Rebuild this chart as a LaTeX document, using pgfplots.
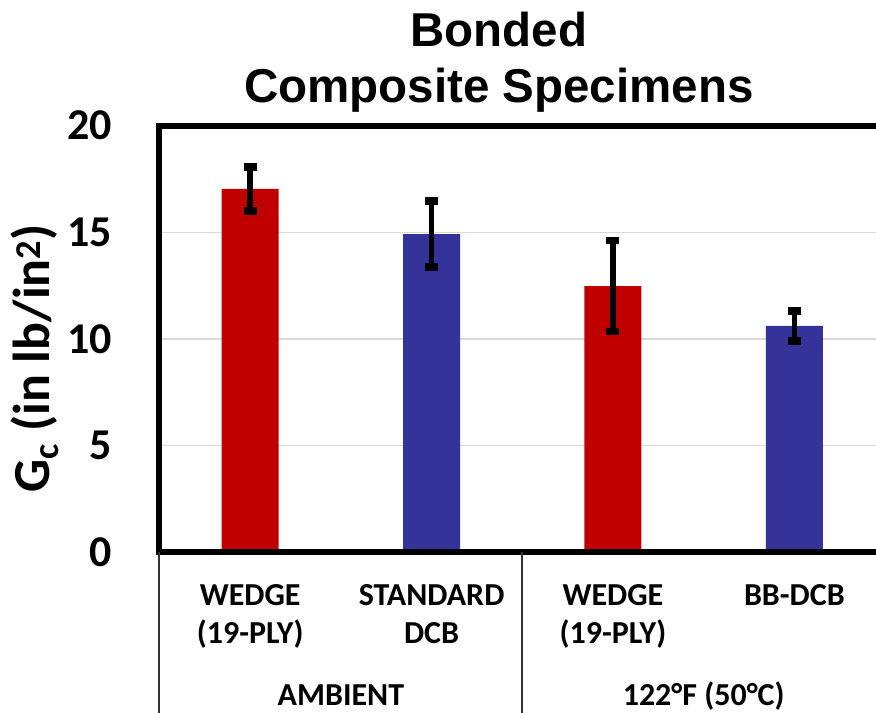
\documentclass[border=0pt]{standalone}
\usepackage{fontspec}
\setmainfont{Carlito}
\newfontfamily\arialfont{Liberation Sans}
\usepackage{pgfplots}
\pgfplotsset{compat=1.18}
\definecolor{barred}{HTML}{C00000}
\definecolor{barblue}{HTML}{333399}
\definecolor{gridgray}{HTML}{D9D9D9}
\begin{document}
\begin{tikzpicture}
\useasboundingbox (-159.5bp,-160.7bp) rectangle (716.5bp,552.3bp);
\begin{axis}[
  at={(0,0)}, anchor=south west,
  scale only axis,
  width=716.5bp, height=426.6bp,
  xmin=-0.5, xmax=3.45, ymin=0, ymax=20,
  clip=false,
  axis line style={draw=none},
  ytick={0,5,10,15,20},
  xtick={0,1,2,3},
  xticklabels={{WEDGE\\(19-PLY)},{STANDARD\\DCB},{WEDGE\\(19-PLY)},{BB-DCB\\\mbox{}}},
  major tick length=0pt,
  ymajorgrids,
  grid style={line width=1.5bp, gridgray},
  /pgf/number format/assume math mode=true,
  yticklabel style={font=\fontsize{44bp}{44bp}\selectfont\bfseries, anchor=east, inner sep=0pt, xshift=-47.5bp},
  xticklabel style={font=\fontsize{32bp}{38bp}\selectfont\bfseries, align=center, anchor=base, inner sep=0pt, yshift=-90.7bp},
  ybar, bar width=57bp,
]
\addplot[fill=barred, draw=none, bar shift=0pt,
  error bars/.cd, y dir=both, y explicit,
  error bar style={line width=5.5bp, black},
  error mark options={rotate=90, line width=7.5bp, mark size=6.5bp, black}]
  coordinates {(0,17.04) +- (0,1.03) (2,12.48) +- (0,2.13)};
\addplot[fill=barblue, draw=none, bar shift=0pt,
  error bars/.cd, y dir=both, y explicit,
  error bar style={line width=5.5bp, black},
  error mark options={rotate=90, line width=7.5bp, mark size=6.5bp, black}]
  coordinates {(1,14.92) +- (0,1.54) (3,10.61) +- (0,0.70)};
\draw[line width=6bp, black, line join=miter] (rel axis cs:1,1) -- (rel axis cs:0,1) -- (rel axis cs:0,0) -- (rel axis cs:1,0);
\draw[line width=2bp, black!80] (axis cs:-0.5,0) -- ([yshift=-170bp]axis cs:-0.5,0);
\draw[line width=2bp, black!80] (axis cs:1.5,0) -- ([yshift=-170bp]axis cs:1.5,0);
\node[anchor=base, font=\fontsize{32bp}{38bp}\selectfont\bfseries] at ([yshift=-152.7bp]axis cs:0.5,0) {AMBIENT};
\node[anchor=base, font=\fontsize{32bp}{38bp}\selectfont\bfseries] at ([yshift=-152.7bp]axis cs:2.5,0) {122°F (50°C)};
\end{axis}
\node[anchor=base, font=\arialfont\fontsize{47.5bp}{56bp}\selectfont\bfseries] at (339.5bp,505.3bp) {Bonded};
\node[anchor=base, font=\arialfont\fontsize{47.5bp}{56bp}\selectfont\bfseries] at (339.5bp,449.3bp) {Composite Specimens};
\node[rotate=90, anchor=base, font=\fontsize{52bp}{52bp}\selectfont\bfseries] at (-110bp,194bp) {G\textsubscript{c} (in lb/in\textsuperscript{2})};
\end{tikzpicture}
\end{document}
